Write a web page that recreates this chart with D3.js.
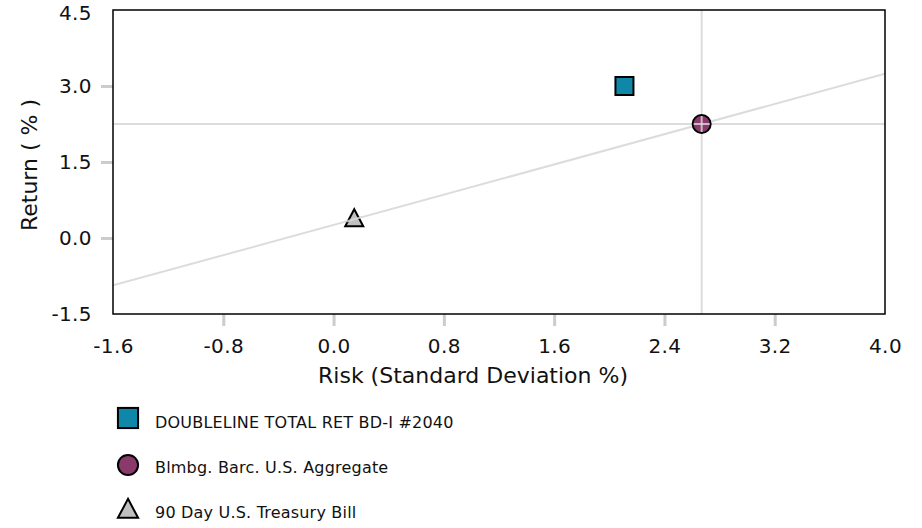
<!DOCTYPE html>
<html><head><meta charset="utf-8">
<script src="https://cdn.jsdelivr.net/npm/d3@7"></script>
<style>body{margin:0;background:#fff}svg{display:block;font-family:Verdana,"DejaVu Sans",sans-serif}</style>
</head><body>
<svg id="c" width="922" height="528"></svg>
<script>
const names = ["DOUBLELINE TOTAL RET BD-I #2040", "Blmbg. Barc. U.S. Aggregate", "90 Day U.S. Treasury Bill"];
const risk = [2.11, 2.67, 0.15];
const ret = [3.0, 2.25, 0.37];
const shapes = ["square", "circle", "triangle"];
const colors = ["#0f87a8", "#8a3a6a", "#c0c0c0"];
const xTicks = [-1.6, -0.8, 0.0, 0.8, 1.6, 2.4, 3.2, 4.0];
const yTicks = [-1.5, 0.0, 1.5, 3.0, 4.5];

const FF = 'Verdana,"DejaVu Sans",sans-serif';
const svg = d3.select("#c");
const L = 113, R = 885, T = 10, B = 314;
const x = d3.scaleLinear().domain([-1.6, 4.0]).range([L, R]);
const y = d3.scaleLinear().domain([-1.5, 4.5]).range([B, T]);
const fmt = d => d3.format(".1f")(d).replace("−", "-");

svg.append("defs").append("clipPath").attr("id", "clip").append("rect")
  .attr("x", L).attr("y", T).attr("width", R - L).attr("height", B - T);

const xAx = svg.append("g").attr("transform", `translate(0,${B})`)
  .call(d3.axisBottom(x).tickValues(xTicks).tickFormat(fmt).tickSize(12).tickPadding(13));
const yAx = svg.append("g").attr("transform", `translate(${L},0)`)
  .call(d3.axisLeft(y).tickValues(yTicks).tickFormat(fmt).tickSize(12).tickPadding(9));
[xAx, yAx].forEach(g => {
  g.attr("font-size", null).attr("font-family", null);
  g.select(".domain").remove();
  g.selectAll("line").attr("stroke", "#c8cdd0").attr("stroke-width", 3);
  g.selectAll("text").attr("fill", "#111").style("font-size", "20px").style("letter-spacing", "0.4px").style("font-family", FF);
});
xAx.selectAll(".tick").filter((d, i) => i === 0 || i === xTicks.length - 1).select("line").remove();
yAx.selectAll(".tick").filter((d, i) => i === 0 || i === yTicks.length - 1).select("line").remove();
yAx.selectAll(".tick").filter((d, i) => i === yTicks.length - 1).select("text").attr("dy", "0.45em");

const plot = svg.append("g").attr("clip-path", "url(#clip)");
plot.append("line").attr("x1", x(risk[1])).attr("x2", x(risk[1])).attr("y1", T).attr("y2", B)
  .attr("stroke", "#dcdcdc").attr("stroke-width", 2);
plot.append("line").attr("x1", L).attr("x2", R).attr("y1", y(ret[1])).attr("y2", y(ret[1]))
  .attr("stroke", "#dcdcdc").attr("stroke-width", 2);
const slope = (ret[1] - ret[2]) / (risk[1] - risk[2]);
const lineAt = r => ret[2] + slope * (r - risk[2]);
plot.append("line").attr("x1", x(-1.6)).attr("y1", y(lineAt(-1.6)))
  .attr("x2", x(4.0)).attr("y2", y(lineAt(4.0)))
  .attr("stroke", "#dcdcdc").attr("stroke-width", 2);

svg.append("rect").attr("x", L).attr("y", T).attr("width", R - L).attr("height", B - T)
  .attr("fill", "none").attr("stroke", "#000").attr("stroke-width", 1.5);

function marker(g, shape, color, cx, cy, s) {
  if (shape === "square") {
    const h = 9 * s;
    g.append("rect").attr("x", cx - h).attr("y", cy - h).attr("width", 2 * h).attr("height", 2 * h)
      .attr("fill", color).attr("stroke", "#000").attr("stroke-width", 2);
  } else if (shape === "circle") {
    g.append("circle").attr("cx", cx).attr("cy", cy).attr("r", 9 * s)
      .attr("fill", color).attr("stroke", "#000").attr("stroke-width", 2);
  } else {
    g.append("path").attr("d", `M${cx},${cy - 10 * s}L${cx + 9 * s},${cy + 7 * s}L${cx - 9 * s},${cy + 7 * s}Z`)
      .attr("fill", color).attr("stroke", "#000").attr("stroke-width", 2);
  }
}
const pts = svg.append("g");
[2, 0, 1].forEach(i => marker(pts, shapes[i], colors[i], x(risk[i]), y(ret[i]), 1));
pts.append("line").attr("x1", x(risk[1])).attr("x2", x(risk[1])).attr("y1", y(ret[1]) - 8).attr("y2", y(ret[1]) + 8)
  .attr("stroke", "#dcdcdc").attr("stroke-width", 2).attr("opacity", 0.8);
pts.append("line").attr("x1", x(risk[1]) - 8).attr("x2", x(risk[1]) + 8).attr("y1", y(ret[1])).attr("y2", y(ret[1]))
  .attr("stroke", "#dcdcdc").attr("stroke-width", 2).attr("opacity", 0.8);
const dr = 8 / (x(1) - x(0));
pts.append("line").attr("x1", x(risk[2] - dr)).attr("y1", y(lineAt(risk[2] - dr)))
  .attr("x2", x(risk[2] + dr)).attr("y2", y(lineAt(risk[2] + dr)))
  .attr("stroke", "#dcdcdc").attr("stroke-width", 2).attr("opacity", 0.8);

svg.append("text").attr("x", 473).attr("y", 383).attr("text-anchor", "middle")
  .style("font-size", "22px").attr("fill", "#111").text("Risk (Standard Deviation %)");
svg.append("text").attr("transform", `translate(37,165) rotate(-90)`).attr("text-anchor", "middle")
  .style("font-size", "22px").attr("fill", "#111").text("Return ( % )");

const lg = svg.append("g");
const legY = [418, 465, 510];
const legBase = [428, 473, 518];
names.forEach((n, i) => {
  marker(lg, shapes[i], colors[i], 128, legY[i], 1.12);
  lg.append("text").attr("x", 155).attr("y", legBase[i]).style("font-size", "16px").style("letter-spacing", "0.2px")
    .attr("fill", "#111").text(n);
});
</script>
</body></html>
